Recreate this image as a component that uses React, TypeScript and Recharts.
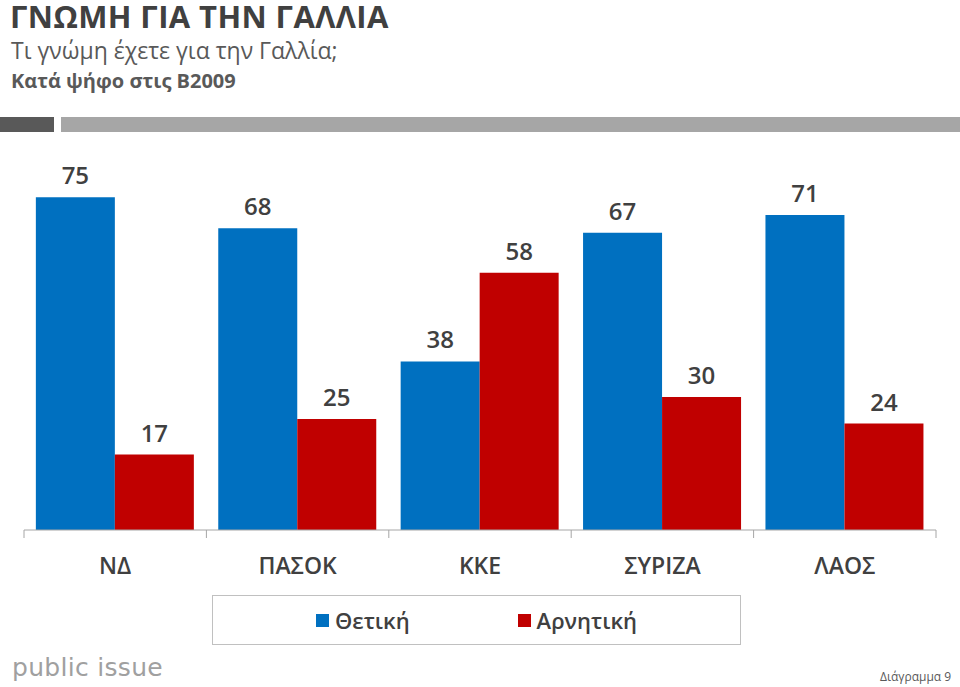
import React from 'react';
import { Bar, BarChart, LabelList, Legend, XAxis, YAxis } from 'recharts';

const parties = ['ΝΔ', 'ΠΑΣΟΚ', 'ΚΚΕ', 'ΣΥΡΙΖΑ', 'ΛΑΟΣ'];
const thetiki = [75, 68, 38, 67, 71];
const arnitiki = [17, 25, 58, 30, 24];

const data = parties.map((p, i) => ({ party: p, thetiki: thetiki[i], arnitiki: arnitiki[i] }));

const FONT = '"Open Sans", "Noto Sans", sans-serif';
const TEXT = '#404040';
const BLUE = '#0070C0';
const RED = '#C00000';

const W = 960;
const H = 687;
// the x axis takes 30px of its own below the plot
const M = { top: 175, right: 24, bottom: 127, left: 24 };
const half = (W - M.left - M.right) / parties.length / 2;

const PartyTick = (props: any) => {
  const { x, y, payload, index } = props;
  const last = index === parties.length - 1;
  return (
    <g>
      <line x1={x - half} x2={x - half} y1={y - 8} y2={y} stroke="#a6a6a6" />
      {last && <line x1={x + half} x2={x + half} y1={y - 8} y2={y} stroke="#a6a6a6" />}
      <text x={x} y={y + 36} textAnchor="middle" fill={TEXT} fontSize={23} fontWeight={600} fontFamily={FONT}>
        {payload.value}
      </text>
    </g>
  );
};

const LegendBox = () => (
  <div
    style={{
      display: 'flex',
      justifyContent: 'center',
      alignItems: 'center',
      gap: 108,
      height: 48,
      border: '1px solid #c0c0c0',
      fontFamily: FONT,
      fontSize: 22,
      fontWeight: 600,
      color: TEXT,
    }}
  >
    {[
      { name: 'Θετική', color: BLUE },
      { name: 'Αρνητική', color: RED },
    ].map((it) => (
      <span key={it.name} style={{ display: 'flex', alignItems: 'center', gap: 6 }}>
        <span style={{ width: 13, height: 13, background: it.color, display: 'inline-block' }} />
        {it.name}
      </span>
    ))}
  </div>
);

export default function App() {
  return (
    <div style={{ position: 'absolute', left: 0, top: 0, width: W, height: H, background: '#fff', overflow: 'hidden', fontFamily: FONT }}>
      <div style={{ position: 'absolute', left: 10, top: 1, fontSize: 31, lineHeight: '31px', fontWeight: 700, letterSpacing: 0.4, color: TEXT, whiteSpace: 'nowrap' }}>
        ΓΝΩΜΗ ΓΙΑ ΤΗΝ ΓΑΛΛΙΑ
      </div>
      <div style={{ position: 'absolute', left: 11, top: 34, fontSize: 23, color: '#595959', whiteSpace: 'nowrap' }}>
        Τι γνώμη έχετε για την Γαλλία;
      </div>
      <div style={{ position: 'absolute', left: 11, top: 67, fontSize: 20, fontWeight: 700, color: '#595959', whiteSpace: 'nowrap' }}>
        Κατά ψήφο στις Β2009
      </div>
      <div style={{ position: 'absolute', left: 0, top: 117, width: 54, height: 15, background: '#595959' }} />
      <div style={{ position: 'absolute', left: 61, top: 117, width: 899, height: 15, background: '#a6a6a6' }} />

      <BarChart width={W} height={H} data={data} margin={M} barCategoryGap="6.5%" barGap={0}>
        <XAxis
          dataKey="party"
          axisLine={{ stroke: '#a6a6a6' }}
          tickLine={false}
          tick={<PartyTick />}
          interval={0}
        />
        <YAxis hide domain={[0, 80]} />
        <Legend
          layout="horizontal"
          verticalAlign="middle"
          align="center"
          content={<LegendBox />}
          wrapperStyle={{ left: 212, top: 595, width: 529, height: 50, bottom: 'auto' }}
        />
        <Bar dataKey="thetiki" name="Θετική" fill={BLUE} isAnimationActive={false}>
          <LabelList dataKey="thetiki" position="top" offset={13} fill={TEXT} fontSize={24} fontWeight={600} fontFamily={FONT} />
        </Bar>
        <Bar dataKey="arnitiki" name="Αρνητική" fill={RED} isAnimationActive={false}>
          <LabelList dataKey="arnitiki" position="top" offset={13} fill={TEXT} fontSize={24} fontWeight={600} fontFamily={FONT} />
        </Bar>
      </BarChart>

      <div style={{ position: 'absolute', left: 12, top: 653, fontSize: 25, color: '#a0a0a0', fontFamily: '"DejaVu Sans", sans-serif', letterSpacing: 0.3 }}>
        public issue
      </div>
      <div style={{ position: 'absolute', left: 880, top: 668, fontSize: 12, color: '#595959' }}>Διάγραμμα 9</div>
    </div>
  );
}
